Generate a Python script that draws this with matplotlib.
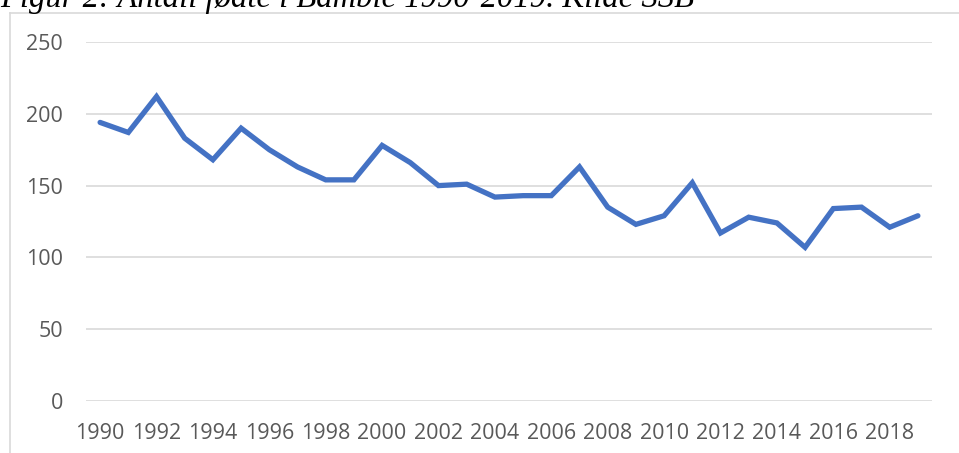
import matplotlib
matplotlib.use("Agg")
import matplotlib.pyplot as plt
from matplotlib.lines import Line2D

years = list(range(1990, 2020))
births = [194, 187, 212, 183, 168, 190, 175, 163, 154, 154,
          178, 166, 150, 151, 142, 143, 143, 163, 135, 123,
          129, 152, 117, 128, 124, 107, 134, 135, 121, 129]
y_ticks = [0, 50, 100, 150, 200, 250]
x_tick_labels = [str(y) for y in years[::2]]
title = "Figur 2: Antall fødte i Bamble 1990-2019. Kilde SSB"

W, H = 959, 453
fig = plt.figure(figsize=(W / 100, H / 100), dpi=100)
fig.patch.set_facecolor("white")

# title (cut off at the top as in the reference)
fig.text(0.0, 1 - 7 / H, title, fontsize=23.5, family="Liberation Serif",
         style="italic", ha="left", va="baseline", color="black")

# chart frame (top and left border)
fig.add_artist(Line2D([10 / W, 1.0], [1 - 13 / H, 1 - 13 / H],
                      transform=fig.transFigure, color="#D9D9D9", lw=1.2))
fig.add_artist(Line2D([10 / W, 10 / W], [0.0, 1 - 13 / H],
                      transform=fig.transFigure, color="#D9D9D9", lw=1.2))

left, right = 86 / W, 932 / W
bottom, top = 1 - 401 / H, 1 - 42 / H
ax = fig.add_axes([left, bottom, right - left, top - bottom])

x = list(range(len(years)))
ax.plot(x, births, color="#4472C4", lw=3.8, solid_joinstyle="miter",
        solid_capstyle="round", zorder=3)

ax.set_xlim(-0.5, len(years) - 0.5)
ax.set_ylim(0, 250)
ax.set_yticks(y_ticks)
ax.set_yticklabels([str(v) for v in y_ticks])
ax.set_xticks(x[::2])
ax.set_xticklabels(x_tick_labels)

for v in y_ticks:
    ax.axhline(v, color="#D9D9D9", lw=1.2, zorder=1)

for s in ax.spines.values():
    s.set_visible(False)
ax.tick_params(axis="both", length=0, labelsize=15.5, colors="#595959")
ax.tick_params(axis="y", pad=16.5)
ax.tick_params(axis="x", pad=16)
for lbl in ax.get_xticklabels() + ax.get_yticklabels():
    lbl.set_family("Open Sans")

fig.savefig("out.png", dpi=100)
